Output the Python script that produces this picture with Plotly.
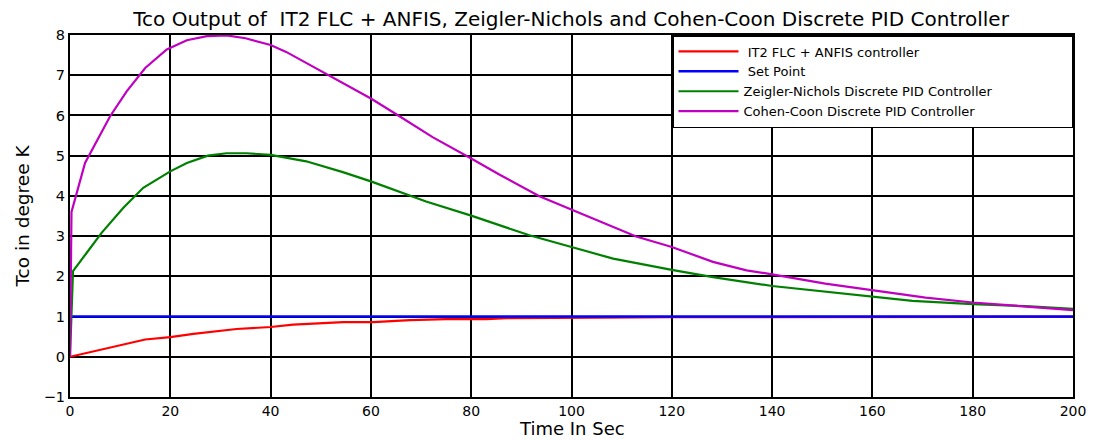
import plotly.graph_objects as go

# Time axes (s) and values
t_red = [0, 15, 20, 24.6, 33.2, 40, 44.5, 54.5, 60.5, 67.8, 75, 83, 87, 97.7, 105, 120, 140, 170, 200]
y_red = [0, 0.43, 0.49, 0.57, 0.69, 0.74, 0.80, 0.86, 0.86, 0.91, 0.935, 0.935, 0.96, 0.96, 0.975, 0.985, 0.99, 0.995, 0.995]

t_set = [0, 200]
y_set = [1, 1]

t_zn = [0, 0.6, 3.3, 6.3, 10.6, 14.6, 20, 23.3, 27.5, 31.2, 35.2, 40, 47.1, 54.4, 60, 71, 80, 85.6,
        91.6, 100, 108.3, 120, 128.2, 140, 150.6, 160, 168, 180, 190.6, 200]
y_zn = [0, 2.13, 2.58, 3.08, 3.70, 4.2, 4.61, 4.82, 5.0, 5.06, 5.06, 5.02, 4.86, 4.59, 4.36, 3.86, 3.51, 3.27,
        3.02, 2.73, 2.44, 2.16, 1.98, 1.76, 1.62, 1.49, 1.39, 1.31, 1.26, 1.19]

t_cc = [0, 0.3, 3, 8, 11.3, 15, 19.3, 23.3, 27.3, 31.2, 35, 40, 43.1, 51.1, 60, 65.7, 72.3, 80, 85.6,
        93.6, 100, 103.6, 112.9, 120, 128.2, 134.9, 140, 150.6, 160, 170.6, 180, 190.6, 200]
y_cc = [0, 3.6, 4.82, 5.98, 6.6, 7.18, 7.64, 7.87, 7.97, 7.99, 7.92, 7.75, 7.58, 7.04, 6.42, 5.98, 5.46, 4.93, 4.53,
        3.99, 3.66, 3.47, 2.99, 2.73, 2.36, 2.15, 2.05, 1.82, 1.66, 1.47, 1.35, 1.25, 1.16]

names = [" IT2 FLC + ANFIS controller", " Set Point",
         "Zeigler-Nichols Discrete PID Controller", "Cohen-Coon Discrete PID Controller"]
colors = ["#ff0000", "#0000ff", "#008000", "#c000c0"]

x_title = "Time In Sec"
y_title = "Tco in degree K"
chart_title = "Tco Output of  IT2 FLC + ANFIS, Zeigler-Nichols and Cohen-Coon Discrete PID Controller"

FONT = "DejaVu Sans, Liberation Sans, Arial, sans-serif"
PAD = "\u00a0" * 18

fig = go.Figure()
series = [(t_red, y_red), (t_set, y_set), (t_zn, y_zn), (t_cc, y_cc)]
for i, ((tx, ty), nm, c) in enumerate(zip(series, names, colors)):
    label = nm + (PAD if i == 2 else "")
    fig.add_trace(go.Scatter(x=tx, y=ty, mode="lines", name=label,
                             line=dict(color=c, width=2.2 if c != "#0000ff" else 2.5)))

fig.update_layout(
    width=1093, height=441,
    margin=dict(l=70, r=20, t=35, b=44, autoexpand=False),
    paper_bgcolor="white", plot_bgcolor="white",
    font=dict(family=FONT, color="black", size=14),
    title=dict(text=chart_title,
               x=0.5225, xanchor="center", xref="container", y=0.958, yanchor="middle", yref="container",
               font=dict(size=20, family=FONT, color="black")),
    legend=dict(x=1, xanchor="right", y=1, yanchor="top", bgcolor="white",
                bordercolor="black", borderwidth=1.5, font=dict(size=13, family=FONT),
                itemwidth=60, tracegroupgap=0),
    showlegend=True,
)
fig.update_xaxes(range=[0, 200], dtick=20, tick0=0, showgrid=True, gridcolor="black", gridwidth=1.5,
                 showline=True, linecolor="black", linewidth=2, mirror=True, zeroline=False,
                 automargin=False, ticks="", tickfont=dict(size=14, family=FONT))
fig.update_yaxes(range=[-1, 8], dtick=1, tick0=0, showgrid=True, gridcolor="black", gridwidth=1.5,
                 showline=True, linecolor="black", linewidth=2, mirror=True, zeroline=False,
                 automargin=False, ticks="", tickfont=dict(size=14.5, family=FONT),
                 title=dict(text=y_title, font=dict(size=18.5, family=FONT), standoff=9))

# x-axis title placed as an annotation just below the tick labels, kept inside the page
fig.add_annotation(text=x_title, xref="paper", yref="paper", x=0.5, y=-(440 - 397) / 362,
                   xanchor="center", yanchor="bottom", showarrow=False, borderpad=0,
                   font=dict(size=18, family=FONT, color="black"))

fig.write_html("out.html")
